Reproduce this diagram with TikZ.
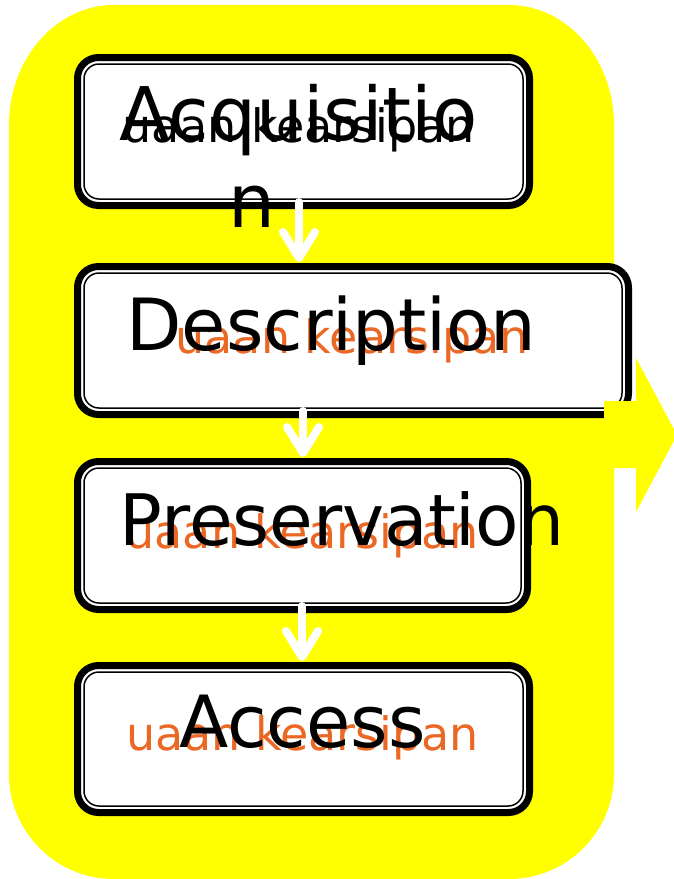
\documentclass[tikz,border=0pt]{standalone}
\usepackage{fontspec}
\setmainfont{DejaVu Sans}
\usetikzlibrary{arrows.meta,calc}
\definecolor{bgyellow}{RGB}{255,255,0}
\definecolor{txtorange}{RGB}{235,104,36}
\tikzset{
  stagebox/.style={rectangle, draw=black, fill=white, line width=7pt, rounded corners=21pt, inner sep=0pt, outer sep=0pt},
  innerline/.style={draw=black, line width=1.5pt, rounded corners=15pt},
  bigtext/.style={anchor=base, inner sep=0pt, font=\fontsize{72}{87}\selectfont, text=black},
  subtext/.style={anchor=base, inner sep=0pt, font=\fontsize{46}{55}\selectfont},
  flow/.style={draw=white, line width=8pt, line cap=round, -{Straight Barb[length=26pt, width=32pt, round]}}
}
\begin{document}
\begin{tikzpicture}[x=1pt,y=-1pt]
\useasboundingbox (0,0) rectangle (673,879);
% yellow background
\fill[bgyellow] (9,125) arc[start angle=180,end angle=270,x radius=105,y radius=120]
  -- (509,5) arc[start angle=270,end angle=360,x radius=105,y radius=120]
  -- (614,774) arc[start angle=0,end angle=90,x radius=105,y radius=105]
  -- (114,879) arc[start angle=90,end angle=180,x radius=105,y radius=105] -- cycle;
% boxes
\node[stagebox, minimum width=452pt, minimum height=148pt] (b1) at (303.5,131.5) {};
\draw[innerline] ($(b1.north west)+(6.5,6.5)$) rectangle ($(b1.south east)+(-6.5,-6.5)$);
\node[stagebox, minimum width=551pt, minimum height=148pt] (b2) at (353,340.5) {};
\draw[innerline] ($(b2.north west)+(6.5,6.5)$) rectangle ($(b2.south east)+(-6.5,-6.5)$);
\node[stagebox, minimum width=450pt, minimum height=148pt] (b3) at (302.5,535.5) {};
\draw[innerline] ($(b3.north west)+(6.5,6.5)$) rectangle ($(b3.south east)+(-6.5,-6.5)$);
\node[stagebox, minimum width=452pt, minimum height=147pt] (b4) at (303.5,739) {};
\draw[innerline] ($(b4.north west)+(6.5,6.5)$) rectangle ($(b4.south east)+(-6.5,-6.5)$);
% right arrow
\fill[bgyellow] (604,401) -- (636,401) -- (636,358) -- (677,435) -- (636,512) -- (636,468) -- (604,468) -- cycle;
% down arrows
\draw[flow] ($(b1.south)+(-4.5,-3.5)$) -- ($(b1.south |- b2.north)+(-4.5,-4.5)$);
\draw[flow] ($(b3.north |- b2.south)+(0.5,-3.5)$) -- ($(b3.north)+(0.5,-4.5)$);
\draw[flow] ($(b3.south)+(-0.5,-3.5)$) -- ($(b3.south |- b4.north)+(-0.5,-4.5)$);
% texts
\node[subtext, text=black] (s1) at (298.5,142) {uaan kearsipan};
\node[bigtext, font=\fontsize{74}{87}\selectfont] (t1) at (298.5,140) {Acquisitio};
\node[bigtext, font=\fontsize{74}{87}\selectfont] (t1b) at (252,227) {n};
\node[subtext, text=txtorange] (s2) at (352,353) {uaan kearsipan};
\node[bigtext] (t2) at (331.5,350) {Description};
\node[subtext, text=txtorange] (s3) at (302,548) {uaan kearsipan};
\node[bigtext, font=\fontsize{71}{87}\selectfont] (t3) at (342,545) {Preservation};
\node[subtext, text=txtorange] (s4) at (302.5,750) {uaan kearsipan};
\node[bigtext] (t4) at (302.5,747) {Access};
\end{tikzpicture}
\end{document}
